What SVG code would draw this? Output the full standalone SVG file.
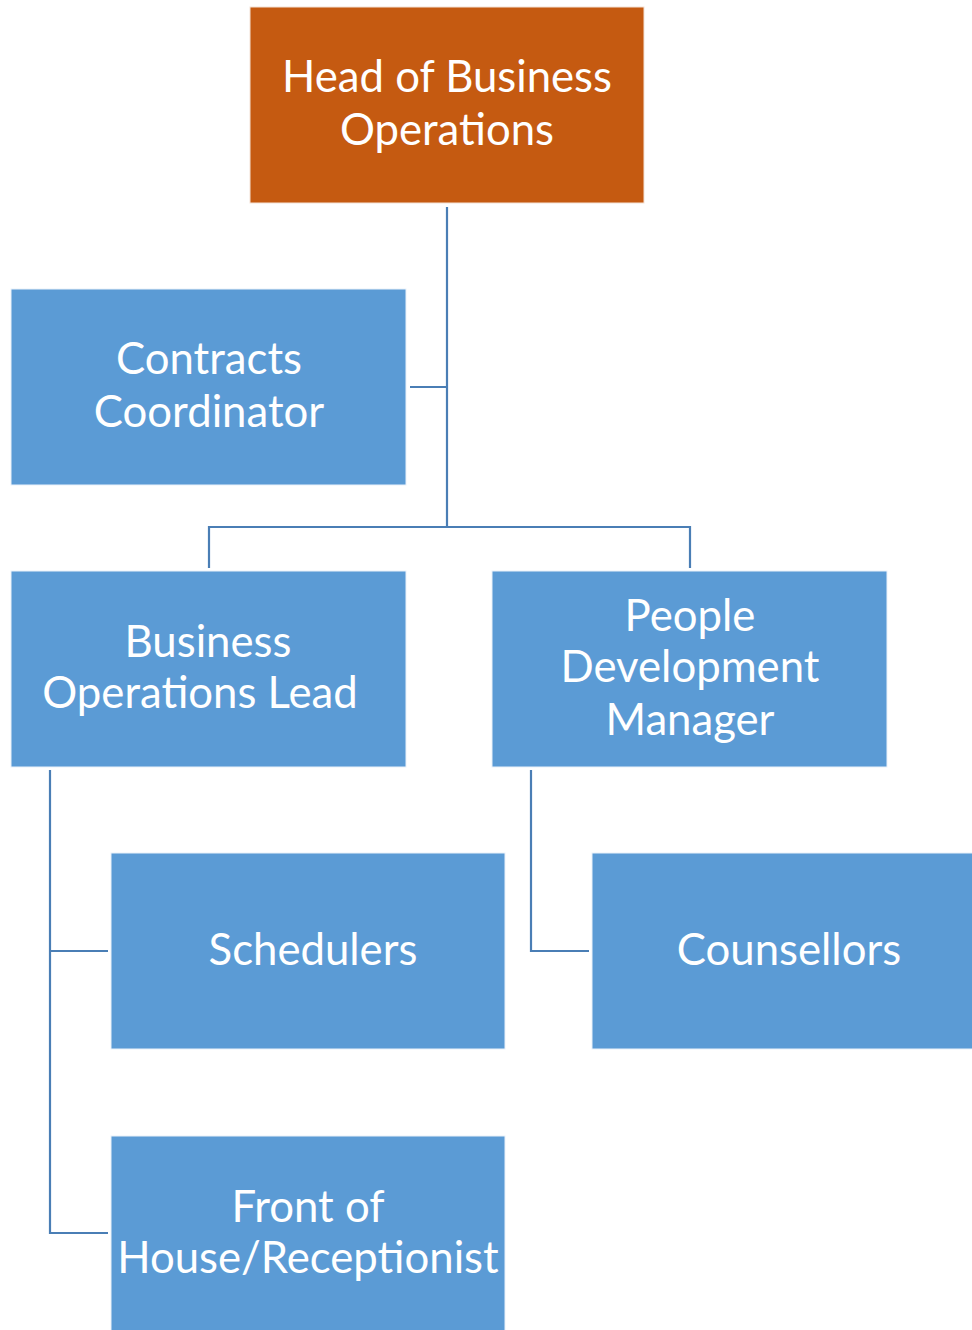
<svg xmlns="http://www.w3.org/2000/svg" width="972" height="1330" viewBox="0 0 972 1330">
  <style>
    .box { fill: #5B9BD5; stroke: #EAF1FA; stroke-width: 1; }
    .head { fill: #C55A11; stroke: #F4E2D6; stroke-width: 1; }
    .lbl { fill: #FFFFFF; font-family: Lato, "Open Sans", "Liberation Sans", sans-serif; font-size: 43.7px; text-anchor: middle; }
    .conn { fill: none; stroke: #4A7EB5; stroke-width: 2.2; }
  </style>
  <rect width="972" height="1330" fill="#FFFFFF"/>

  <!-- reporting lines -->
  <g id="connectors">
    <path class="conn" d="M447 207 V527"/>
    <path class="conn" d="M410 387 H447"/>
    <path class="conn" d="M209 568 V527 H690 V568"/>
    <path class="conn" d="M50 770 V1233 H108"/>
    <path class="conn" d="M50 951 H108"/>
    <path class="conn" d="M531 770 V951 H589"/>
  </g>

  <g id="head-of-business-operations">
    <rect class="head" x="250" y="7" width="394" height="196"/>
    <text class="lbl" x="447" y="92">Head of Business</text>
    <text class="lbl" x="447" y="145">Operations</text>
  </g>

  <g id="contracts-coordinator">
    <rect class="box" x="11" y="289" width="395" height="196"/>
    <text class="lbl" x="209" y="374">Contracts</text>
    <text class="lbl" x="209" y="427">Coordinator</text>
  </g>

  <g id="business-operations-lead">
    <rect class="box" x="11" y="571" width="395" height="196"/>
    <text class="lbl" x="208" y="657">Business</text>
    <text class="lbl" x="200" y="708">Operations Lead</text>
  </g>

  <g id="people-development-manager">
    <rect class="box" x="492" y="571" width="395" height="196"/>
    <text class="lbl" x="690" y="631">People</text>
    <text class="lbl" x="690" y="682">Development</text>
    <text class="lbl" x="690" y="735">Manager</text>
  </g>

  <g id="schedulers">
    <rect class="box" x="111" y="853" width="394" height="196"/>
    <text class="lbl" x="313" y="965">Schedulers</text>
  </g>

  <g id="counsellors">
    <rect class="box" x="592" y="853" width="395" height="196"/>
    <text class="lbl" x="789" y="965">Counsellors</text>
  </g>

  <g id="front-of-house-receptionist">
    <rect class="box" x="111" y="1136" width="394" height="196"/>
    <text class="lbl" x="308" y="1222">Front of</text>
    <text class="lbl" x="308" y="1273">House/Receptionist</text>
  </g>
</svg>
